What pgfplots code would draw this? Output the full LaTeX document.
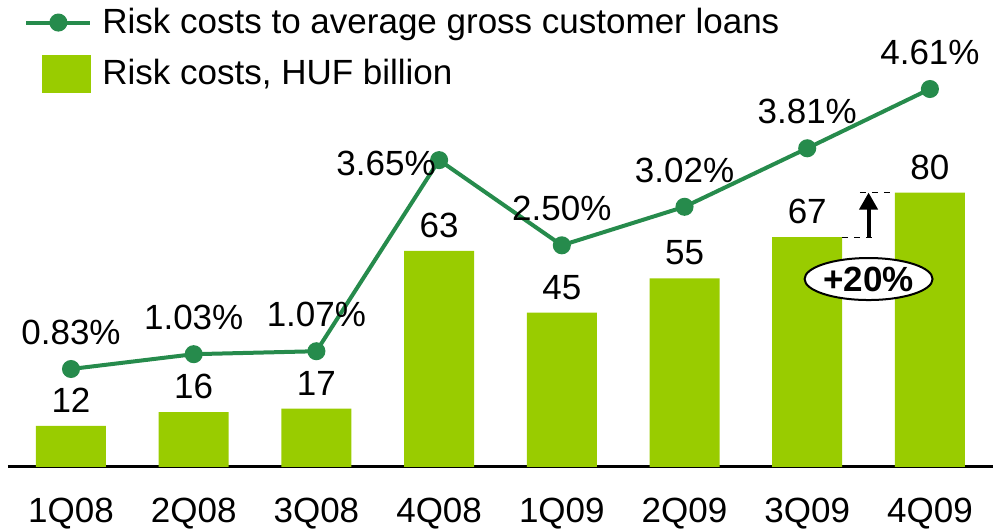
\documentclass[border=0pt]{standalone}
\usepackage{pgfplots}
\usepackage{pgfplotstable}
\pgfplotsset{compat=1.18}
\usepackage{fontspec}
\setmainfont{Liberation Sans}
\usetikzlibrary{arrows.meta,shapes.geometric}
\definecolor{barcol}{RGB}{153,204,0}
\definecolor{linecol}{RGB}{38,139,76}

% risk costs to average gross customer loans (%)
\pgfplotstableread{
x y
0 0.83
1 1.03
2 1.07
3 3.65
4 2.50
5 3.02
6 3.81
7 4.61
}\ratio

\pgfplotsset{
  /pgf/number format/assume math mode=true,
  base/.style={
    at={(4pt,31pt)}, anchor=south west,
    scale only axis, width=492.5pt, height=233.5pt,
    xmin=-0.5134, xmax=7.514,
    clip=false,
  },
  pctlabel/.style={draw=none, mark=none, forget plot,
    nodes near coords={\pgfmathprintnumber[fixed,fixed zerofill,precision=2]{\pgfplotspointmeta}\%}},
}

\begin{document}
\begin{tikzpicture}[font=\fontsize{17.5pt}{21pt}\selectfont]
% bars: risk costs, HUF billion
\begin{axis}[base,
    ymin=0, ymax=136.15,
    axis y line=none,
    axis x line=bottom,
    x axis line style={line width=1.5pt, -},
    xtick={0,...,7},
    xticklabels={1Q08,2Q08,3Q08,4Q08,1Q09,2Q09,3Q09,4Q09},
    major tick length=0pt,
    xticklabel style={anchor=north, yshift=-12pt},
    ybar, bar width=35pt,
    nodes near coords,
    every node near coord/.append style={anchor=base, yshift=6.75pt, inner sep=0pt, black},
]
\addplot[fill=barcol, draw=none] coordinates {
  (0,12) (1,16) (2,17) (3,63) (4,45) (5,55) (6,67) (7,80)
};
\draw[line width=1pt] (rel axis cs:1,0) -- ++(0,4pt);
% +20% annotation
\draw[dashed, line width=0.6pt] (axis cs:6.285,67) -- (axis cs:6.577,67);
\draw[dashed, line width=0.6pt] (axis cs:6.43,80) -- (axis cs:6.715,80);
\draw[line width=2pt, -{Triangle[width=9pt,length=8.5pt]}] (axis cs:6.5,67) -- (axis cs:6.5,80);
\node[ellipse, draw, fill=white, line width=1pt, minimum width=63.5pt,
      minimum height=21pt, inner sep=0pt, font=\fontsize{17.5pt}{21pt}\selectfont\bfseries]
  at (axis cs:6.5,54.8) {+20\%};
\end{axis}
% line: risk costs to average gross customer loans
\begin{axis}[base,
    ymin=-0.4928, ymax=5.812,
    axis lines=none,
    legend style={at={(axis description cs:0,1)}, anchor=north west,
      draw=none, fill=none, row sep=7pt, inner sep=0pt,
      font=\fontsize{17.5pt}{21pt}\selectfont,
      xshift=8pt, yshift=-2pt,
      nodes={inner xsep=5pt}},
    legend cell align=left,
]
\addplot[color=linecol, line width=2pt, mark=*, mark size=3.5pt,
    legend image code/.code={\draw[mark repeat=2,mark phase=2] plot coordinates {(0pt,0pt) (16pt,0pt) (32pt,0pt)};},
] table[x=x, y=y] {\ratio};
\addlegendentry{Risk costs to average gross customer loans}
\addlegendimage{legend image code/.code={\fill[barcol] (8pt,-9.25pt) rectangle (32pt,9.25pt);}}
\addlegendentry{Risk costs, HUF billion}
% value labels
\addplot[pctlabel, x filter/.expression={x==3 ? nan : x},
    every node near coord/.append style={anchor=base, yshift=12.25pt, inner sep=0pt, black},
] table[x=x, y=y] {\ratio};
\addplot[pctlabel, restrict x to domain=2.5:3.5,
    every node near coord/.append style={anchor=base east, xshift=-1.5pt, yshift=-7.75pt, inner sep=0pt, black},
] table[x=x, y=y] {\ratio};
\end{axis}
\pgfresetboundingbox
\useasboundingbox (0,0) rectangle (496.5pt,264.5pt);
\end{tikzpicture}
\end{document}
